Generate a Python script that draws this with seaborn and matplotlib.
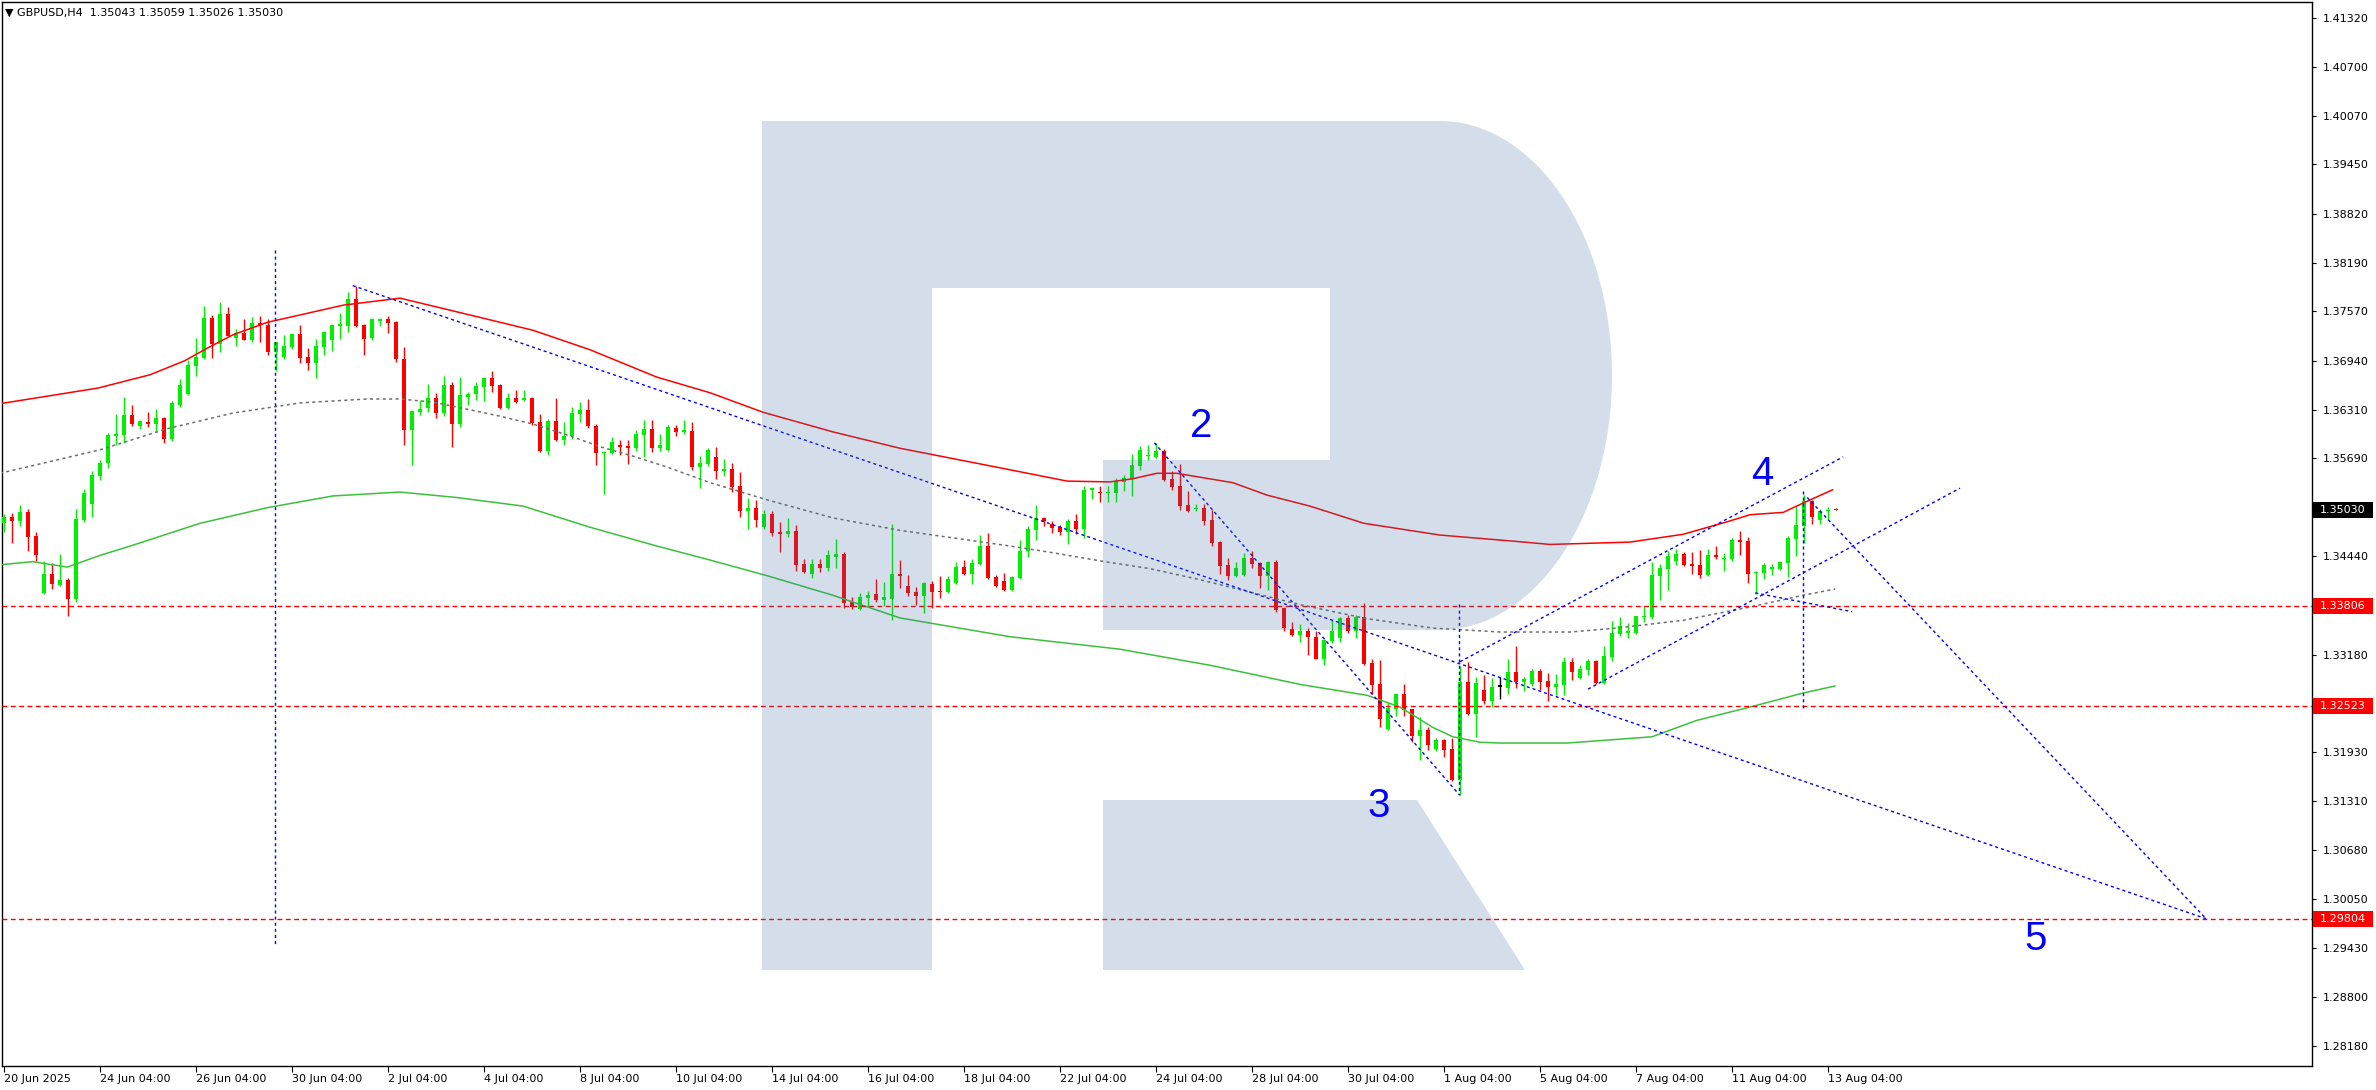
import matplotlib
matplotlib.use("Agg")
import matplotlib.pyplot as plt
from matplotlib.patches import Rectangle, Polygon
import numpy as np
import pandas as pd
import seaborn as sns

# ---------------- data ----------------
header_text = "\u25BC GBPUSD,H4  1.35043 1.35059 1.35026 1.35030"

opens = [1.3486,1.3494,1.3489,1.3500,1.3470,1.3397,1.3421,1.3407,1.3413,1.3389,
         1.3490,1.3511,1.3547,1.3563,1.3598,1.3599,1.3625,1.3610,1.3616,1.3613,
         1.3621,1.3594,1.3637,1.3651,1.3687,1.3697,1.3749,1.3715,1.3754,1.3723,
         1.3729,1.3720,1.3742,1.3740,1.3705,1.3699,1.3711,1.3728,1.3699,1.3691,
         1.3711,1.3720,1.3738,1.3738,1.3773,1.3740,1.3723,1.3745,1.3747,1.3743,
         1.3696,1.3605,1.3628,1.3633,1.3646,1.3627,1.3663,1.3613,1.3648,1.3651,
         1.3660,1.3672,1.3663,1.3633,1.3646,1.3644,1.3646,1.3616,1.3579,1.3617,
         1.3593,1.3598,1.3626,1.3631,1.3610,1.3576,1.3576,1.3586,1.3585,1.3582,
         1.3599,1.3607,1.3582,1.3580,1.3608,1.3603,1.3604,1.3558,1.3562,1.3571,
         1.3553,1.3556,1.3534,1.3502,1.3506,1.3481,1.3498,1.3475,1.3472,1.3476,
         1.3434,1.3421,1.3434,1.3429,1.3443,1.3447,1.3385,1.3376,1.3390,1.3396,
         1.3388,1.3389,1.3421,1.3406,1.3398,1.3393,1.3408,1.3399,1.3398,1.3410,
         1.3430,1.3421,1.3434,1.3457,1.3417,1.3412,1.3401,1.3416,1.3451,1.3477,
         1.3493,1.3485,1.3481,1.3475,1.3489,1.3479,1.3529,1.3526,1.3525,1.3525,
         1.3539,1.3543,1.3559,1.3572,1.3571,1.3579,1.3543,1.3534,1.3509,1.3504,
         1.3506,1.3490,1.3462,1.3433,1.3419,1.3420,1.3442,1.3435,1.3419,1.3437,
         1.3378,1.3351,1.3343,1.3348,1.3341,1.3312,1.3335,1.3339,1.3365,1.3348,
         1.3366,1.3307,1.3280,1.3223,1.3248,1.3268,1.3248,1.3214,1.3222,1.3197,
         1.3209,1.3197,1.3158,1.3283,1.3242,1.3273,1.3259,1.3277,1.3275,1.3296,
         1.3283,1.3280,1.3297,1.3284,1.3277,1.3279,1.3309,1.3288,1.3298,1.3310,
         1.3282,1.3315,1.3344,1.3346,1.3346,1.3366,1.3366,1.3419,1.3428,1.3438,
         1.3447,1.3434,1.3433,1.3420,1.3445,1.3440,1.3440,1.3465,1.3463,1.3422,
         1.3422,1.3428,1.3428,1.3435,1.3466,1.3483,1.3515,1.3490,1.3502,1.35043]
highs = [1.3498,1.3499,1.3509,1.3504,1.3475,1.3438,1.3435,1.3447,1.3416,1.3504,
         1.3530,1.3553,1.3567,1.3601,1.3626,1.3648,1.3637,1.3618,1.3628,1.3632,
         1.3622,1.3642,1.3671,1.3695,1.3723,1.3764,1.3752,1.3769,1.3763,1.3734,
         1.3747,1.3750,1.3751,1.3747,1.3718,1.3727,1.3729,1.3740,1.3710,1.3722,
         1.3732,1.3741,1.3755,1.3782,1.3790,1.3741,1.3748,1.3749,1.3751,1.3745,
         1.3711,1.3631,1.3644,1.3664,1.3653,1.3674,1.3667,1.3673,1.3654,1.3667,
         1.3673,1.3681,1.3664,1.3653,1.3657,1.3657,1.3647,1.3626,1.3619,1.3646,
         1.3616,1.3635,1.3641,1.3645,1.3613,1.3578,1.3596,1.3593,1.3593,1.3605,
         1.3618,1.3618,1.3600,1.3612,1.3612,1.3618,1.3616,1.3572,1.3582,1.3584,
         1.3568,1.3563,1.3552,1.3518,1.3516,1.3503,1.3502,1.3488,1.3493,1.3484,
         1.3440,1.3440,1.3440,1.3452,1.3466,1.3449,1.3392,1.3397,1.3399,1.3415,
         1.3411,1.3485,1.3439,1.3420,1.3405,1.3411,1.3412,1.3419,1.3419,1.3437,
         1.3439,1.3440,1.3471,1.3474,1.3420,1.3422,1.3418,1.3465,1.3483,1.3509,
         1.3494,1.3489,1.3484,1.3491,1.3498,1.3534,1.3532,1.3534,1.3534,1.3544,
         1.3548,1.3575,1.3585,1.3586,1.3589,1.3581,1.3553,1.3562,1.3527,1.3511,
         1.3511,1.3503,1.3463,1.3442,1.3437,1.3448,1.3451,1.3436,1.3438,1.3439,
         1.3379,1.3360,1.3357,1.3352,1.3348,1.3338,1.3362,1.3366,1.3369,1.3369,
         1.3384,1.3312,1.3311,1.3257,1.3269,1.3280,1.3249,1.3238,1.3225,1.3211,
         1.3210,1.3211,1.3304,1.3309,1.3289,1.3292,1.3288,1.3289,1.3312,1.3329,
         1.3289,1.3300,1.3300,1.3295,1.3293,1.3315,1.3314,1.3305,1.3312,1.3311,
         1.3329,1.3361,1.3366,1.3358,1.3368,1.3380,1.3437,1.3434,1.3451,1.3453,
         1.3449,1.3449,1.3452,1.3453,1.3457,1.3448,1.3467,1.3476,1.3468,1.3425,
         1.3435,1.3434,1.3438,1.3470,1.3508,1.3522,1.3516,1.3504,1.3507,1.35059]
lows = [1.3475,1.3461,1.3483,1.3451,1.3438,1.3396,1.3402,1.3406,1.3367,1.3385,
        1.3488,1.3494,1.3541,1.3557,1.3586,1.3589,1.3610,1.3607,1.3609,1.3604,
        1.3589,1.3591,1.3635,1.3650,1.3674,1.3696,1.3697,1.3705,1.3726,1.3713,
        1.3720,1.3718,1.3718,1.3701,1.3681,1.3696,1.3709,1.3691,1.3682,1.3672,
        1.3701,1.3706,1.3722,1.3731,1.3737,1.3701,1.3720,1.3738,1.3729,1.3692,
        1.3586,1.3561,1.3625,1.3628,1.3621,1.3623,1.3584,1.3609,1.3637,1.3644,
        1.3642,1.3654,1.3632,1.3632,1.3640,1.3642,1.3612,1.3577,1.3573,1.3591,
        1.3586,1.3594,1.3616,1.3608,1.3561,1.3523,1.3575,1.3573,1.3562,1.3579,
        1.3571,1.3577,1.3579,1.3579,1.3598,1.3600,1.3554,1.3531,1.3559,1.3543,
        1.3547,1.3526,1.3494,1.3479,1.3481,1.3479,1.3470,1.3449,1.3468,1.3425,
        1.3422,1.3416,1.3424,1.3425,1.3429,1.3378,1.3376,1.3375,1.3379,1.3385,
        1.3380,1.3362,1.3403,1.3393,1.3382,1.3371,1.3378,1.3390,1.3397,1.3408,
        1.3420,1.3408,1.3433,1.3415,1.3405,1.3400,1.3399,1.3415,1.3443,1.3465,
        1.3483,1.3474,1.3471,1.3459,1.3472,1.3467,1.3517,1.3513,1.3513,1.3513,
        1.3527,1.3521,1.3554,1.3567,1.3570,1.3540,1.3529,1.3503,1.3500,1.3502,
        1.3484,1.3457,1.3421,1.3413,1.3417,1.3419,1.3429,1.3403,1.3401,1.3373,
        1.3348,1.3342,1.3334,1.3318,1.3312,1.3305,1.3333,1.3334,1.3346,1.3339,
        1.3305,1.3268,1.3225,1.3222,1.3240,1.3240,1.3206,1.3183,1.3196,1.3195,
        1.3187,1.3157,1.3139,1.3241,1.3213,1.3255,1.3251,1.3261,1.3268,1.3275,
        1.3272,1.3278,1.3273,1.3259,1.3266,1.3266,1.3286,1.3287,1.3292,1.3281,
        1.3280,1.3310,1.3342,1.3339,1.3344,1.3360,1.3364,1.3388,1.3401,1.3433,
        1.3431,1.3421,1.3416,1.3419,1.3440,1.3425,1.3438,1.3445,1.3410,1.3396,
        1.3415,1.3420,1.3426,1.3417,1.3444,1.3461,1.3485,1.3485,1.3490,1.35026]
closes = [1.3494,1.3489,1.3500,1.3468,1.3445,1.3421,1.3408,1.3413,1.3389,1.3491,
          1.3525,1.3548,1.3563,1.3599,1.3600,1.3625,1.3613,1.3617,1.3613,1.3621,
          1.3594,1.3640,1.3663,1.3689,1.3699,1.3749,1.3715,1.3754,1.3726,1.3729,
          1.3720,1.3742,1.3740,1.3705,1.3718,1.3713,1.3728,1.3697,1.3691,1.3713,
          1.3731,1.3740,1.3741,1.3773,1.3738,1.3722,1.3747,1.3747,1.3742,1.3696,
          1.3605,1.3630,1.3632,1.3646,1.3627,1.3663,1.3613,1.3650,1.3651,1.3662,
          1.3672,1.3662,1.3633,1.3646,1.3641,1.3646,1.3614,1.3579,1.3617,1.3593,
          1.3598,1.3627,1.3631,1.3610,1.3576,1.3577,1.3590,1.3584,1.3582,1.3600,
          1.3607,1.3582,1.3586,1.3609,1.3603,1.3605,1.3558,1.3563,1.3580,1.3553,
          1.3556,1.3532,1.3502,1.3506,1.3490,1.3498,1.3474,1.3472,1.3476,1.3433,
          1.3424,1.3434,1.3429,1.3445,1.3447,1.3384,1.3379,1.3392,1.3394,1.3388,
          1.3392,1.3421,1.3419,1.3397,1.3393,1.3410,1.3398,1.3398,1.3415,1.3430,
          1.3421,1.3435,1.3457,1.3416,1.3406,1.3401,1.3417,1.3451,1.3479,1.3493,
          1.3489,1.3480,1.3475,1.3489,1.3479,1.3529,1.3531,1.3525,1.3526,1.3540,
          1.3544,1.3561,1.3580,1.3573,1.3579,1.3541,1.3532,1.3508,1.3502,1.3506,
          1.3489,1.3461,1.3431,1.3419,1.3429,1.3442,1.3434,1.3419,1.3437,1.3375,
          1.3352,1.3343,1.3348,1.3341,1.3312,1.3337,1.3348,1.3365,1.3348,1.3366,
          1.3306,1.3279,1.3236,1.3250,1.3268,1.3247,1.3214,1.3222,1.3202,1.3209,
          1.3196,1.3158,1.3283,1.3242,1.3282,1.3259,1.3277,1.3277,1.3296,1.3283,
          1.3287,1.3297,1.3283,1.3277,1.3280,1.3309,1.3296,1.3300,1.3310,1.3282,
          1.3316,1.3346,1.3355,1.3347,1.3367,1.3367,1.3420,1.3429,1.3444,1.3447,
          1.3433,1.3431,1.3420,1.3445,1.3443,1.3442,1.3465,1.3462,1.3421,1.3424,
          1.3433,1.3429,1.3437,1.3467,1.3484,1.3515,1.3494,1.3502,1.3503,1.35030]

# moving averages (bar index, price)
ma_red_bar = [-0.5,11.75,18.25,22.6,25.4,28.6,32.9,42.4,49.5,56.4,66.1,73.25,81.6,88.25,94.9,
              103.6,112,124.5,132.9,138.25,141.1,144.1,146.6,149.5,153.6,157.9,163.25,170,
              179.5,188.9,193.25,203.25,209.9,215.4,218.25,222.4,224.9,228.6]
ma_red_val = [1.3639,1.3659,1.3676,1.3694,1.3710,1.3727,1.3743,1.3765,1.3774,1.3757,1.3733,1.3708,
              1.3673,1.3653,1.3628,1.3603,1.3582,1.3557,1.3540,1.3539,1.3543,1.3550,1.3550,1.3545,
              1.3538,1.3522,1.3508,1.3486,1.3471,1.3463,1.3459,1.3462,1.3472,1.3488,1.3497,1.3500,
              1.3512,1.3529]
ma_grey_bar = [-0.5,12,20.4,28.6,37,45.4,49.5,53.6,57.9,62,66.1,70.4,74.5,78.6,82.9,88.25,95.4,
               103.6,112,125.75,130.75,137,143.25,149.5,155.75,162,170.4,178.6,187,195.75,201.6,
               209.9,218.25,224.9,228.9]
ma_grey_val = [1.3550,1.3580,1.3607,1.3627,1.3640,1.3645,1.3645,1.3641,1.3632,1.3623,1.3613,1.3599,
               1.3584,1.3572,1.3558,1.3538,1.3516,1.3493,1.3477,1.3457,1.3449,1.3438,1.3428,1.3414,
               1.3398,1.3382,1.3364,1.3352,1.3347,1.3347,1.3352,1.3362,1.3379,1.3394,1.3402]
ma_green_bar = [-0.5,3.6,7.9,12,16.1,24.5,32.9,41.1,49.5,56.6,64.9,73.25,81.6,87.9,95.4,103.6,112,
                125.75,139.5,151,162,170.4,174.5,178.6,181.1,184.5,187,195.4,206,211.6,218.25,
                224.9,228.9]
ma_green_val = [1.3433,1.3437,1.3430,1.3445,1.3458,1.3486,1.3506,1.3521,1.3526,1.3519,1.3508,1.3481,
                1.3457,1.3440,1.3419,1.3394,1.3365,1.3341,1.3325,1.3304,1.3280,1.3266,1.3251,1.3225,
                1.3213,1.3206,1.3205,1.3205,1.3213,1.3234,1.3251,1.3269,1.3278]

xtick_bars = list(range(0, 229, 12))
xtick_labels = ["20 Jun 2025", "24 Jun 04:00", "26 Jun 04:00", "30 Jun 04:00", "2 Jul 04:00",
                "4 Jul 04:00", "8 Jul 04:00", "10 Jul 04:00", "14 Jul 04:00", "16 Jul 04:00",
                "18 Jul 04:00", "22 Jul 04:00", "24 Jul 04:00", "28 Jul 04:00", "30 Jul 04:00",
                "1 Aug 04:00", "5 Aug 04:00", "7 Aug 04:00", "11 Aug 04:00", "13 Aug 04:00"]
ytick_values = [1.41320, 1.40700, 1.40070, 1.39450, 1.38820, 1.38190, 1.37570, 1.36940, 1.36310,
                1.35690, 1.35060, 1.34440, 1.33810, 1.33180, 1.32550, 1.31930, 1.31310, 1.30680,
                1.30050, 1.29430, 1.28800, 1.28180]

level_values = [1.33806, 1.32523, 1.29804]
last_price = 1.35030

wave_names = ["2", "3", "4", "5"]
wave_bar = [149.6, 171.9, 219.75, 253.9]
wave_price = [1.3610, 1.3124, 1.3549, 1.2954]

# analysis lines: (bar0, price0, bar1, price1)
trend_lines = [
    (43.6, 1.3790, 275.25, 1.29804),
    (225.4, 1.3519, 275.25, 1.29804),
    (182.0, 1.3309, 229.9, 1.3571),
    (198.0, 1.3274, 244.5, 1.3531),
    (143.8, 1.3589, 181.9, 1.3139),
    (218.9, 1.3397, 231.0, 1.3373),
    (33.9, 1.38356, 33.9, 1.29480),
    (181.9, 1.3383, 181.9, 1.3139),
    (224.9, 1.3527, 224.9, 1.3250),
]

# ---------------- figure ----------------
sns.set_style("white")
plt.rcParams['font.family'] = ['DejaVu Sans']

W, H = 2376, 1090
fig = plt.figure(figsize=(W / 100, H / 100), dpi=100)
L, R, T, B = 2, 2312, 2, 1066
ax = fig.add_axes([L / W, 1 - B / H, (R - L) / W, (B - T) / H])
px_per_unit = 7819.0
p_top = 1.41553 - T / px_per_unit
p_bot = 1.41553 - B / px_per_unit
ax.set_xlim(-0.25, (R - 4) / 8.0)
ax.set_ylim(p_bot, p_top)

GREEN = "#00ee00"
RED = "#ff0000"

df = pd.DataFrame({"o": opens, "h": highs, "l": lows, "c": closes})
df["i"] = np.arange(len(df))
col = np.where(df.c > df.o, GREEN, np.where(df.c < df.o, RED, "#000000"))
ax.vlines(df.i, df.l, df.h, colors=col, lw=1.0, zorder=3)
body_lo = np.minimum(df.o, df.c)
body_h = np.maximum((df.c - df.o).abs(), 1.3 / px_per_unit)
ax.bar(df.i, body_h, bottom=body_lo, width=0.6, color=col, linewidth=0, zorder=3)

# moving averages
sns.lineplot(x=ma_red_bar, y=ma_red_val, ax=ax, color="#ff0000", lw=1.1, zorder=4)
sns.lineplot(x=ma_grey_bar, y=ma_grey_val, ax=ax, color="#6e6e6e", lw=1.1, zorder=4,
             linestyle=(0, (2.0, 2.2)))
sns.lineplot(x=ma_green_bar, y=ma_green_val, ax=ax, color="#3cc03c", lw=1.1, zorder=4)

# horizontal levels
for lv in level_values:
    ax.axhline(lv, color="#ff0000", lw=1.0, linestyle=(0, (3.5, 2.5)), zorder=4)

# blue analysis lines
for (x0, y0, x1, y1) in trend_lines:
    ax.plot([x0, x1], [y0, y1], color="#0000ff", lw=1.0, linestyle=(0, (2.2, 2.2)), zorder=5)

# watermark (translucent logo drawn over the chart)
def P(x, y):
    return ((x - L) / (R - L), (B - y) / (B - T))

wm_kw = dict(transform=ax.transAxes, facecolor=(70 / 255, 114 / 255, 163 / 255),
             alpha=0.227, edgecolor="none", zorder=6)
cx, cy, rx, ry = 1440, 375.5, 172, 254.5
arc = [P(cx + rx * np.cos(t), cy - ry * np.sin(t)) for t in np.linspace(np.pi / 2, -np.pi / 2, 80)]
ax.add_patch(Polygon([P(762, 121), P(932, 121), P(932, 970), P(762, 970)], **wm_kw))
ax.add_patch(Polygon([P(932, 121), P(cx, 121), P(cx, 288), P(932, 288)], **wm_kw))
bowl = [P(cx, 121)] + arc + [P(1103, 630), P(1103, 460), P(1330, 460), P(1330, 288), P(cx, 288)]
ax.add_patch(Polygon(bowl, **wm_kw))
ax.add_patch(Polygon([P(1103, 800), P(1417, 800), P(1525, 970), P(1103, 970)], **wm_kw))

# wave labels
for name, xb, yp in zip(wave_names, wave_bar, wave_price):
    ax.text(xb, yp, name, color="#0000ff", fontsize=29, ha="center", va="center",
            family=["Liberation Sans", "DejaVu Sans"], zorder=7)

# header
fig.text(5 / W, 1 - 12.5 / H, header_text, fontsize=8, va="center", ha="left", color="black")

# axes styling
for s in ax.spines.values():
    s.set_color("black")
    s.set_linewidth(1.0)
ax.yaxis.tick_right()
ax.set_yticks(ytick_values)
ax.set_yticklabels([f"{v:.5f}" for v in ytick_values])
ax.set_xticks(xtick_bars)
ax.set_xticklabels(xtick_labels, ha="left")
ax.tick_params(axis="y", which="both", right=True, left=False, length=3, width=0.8,
               pad=5, labelsize=8, colors="black", direction="out")
ax.tick_params(axis="x", which="both", bottom=True, length=4, width=0.8, pad=2,
               labelsize=8, colors="black", direction="out")
ax.grid(False)
ax.set_xlabel("")
ax.set_ylabel("")
ax.set_facecolor("white")

# price tags on the right axis
def tag(price, fc):
    y_disp = ax.transData.transform((0, price))[1]
    fy = y_disp / H
    fig.patches.append(Rectangle((2313 / W, fy - 8 / H), 60 / W, 16 / H, transform=fig.transFigure,
                                 facecolor=fc, edgecolor="none", zorder=10, figure=fig))
    fig.text(2320 / W, fy, f"{price:.5f}", color="white", fontsize=8, va="center", ha="left", zorder=11)

for lv in level_values:
    tag(lv, "#ff0000")
tag(last_price, "#000000")

fig.savefig("out.png", dpi=100, facecolor="white")
